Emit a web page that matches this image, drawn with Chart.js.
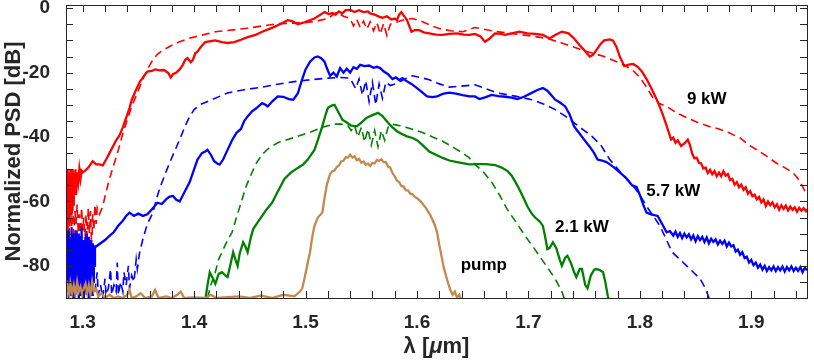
<!DOCTYPE html>
<html>
<head>
<meta charset="utf-8">
<script src="https://cdn.jsdelivr.net/npm/chart.js@4.4.1/dist/chart.umd.min.js"></script>
<style>
  html, body { margin: 0; padding: 0; background: #fff; }
  canvas { display: block; }
</style>
</head>
<body>
<canvas id="psd" width="814" height="364"></canvas>
<script>
// tick labels
const xTicks = [1.3, 1.4, 1.5, 1.6, 1.7, 1.8, 1.9];
const yTicks = [-80, -60, -40, -20, 0];

// series: [wavelength um, PSD dB]
// 9 kW measured
const red9kW = [
  [1.285,-53],[1.2855,-62],[1.286,-50],[1.2865,-70],[1.287,-52],[1.2875,-66],[1.288,-51],[1.2885,-60],
  [1.289,-50],[1.2895,-64],[1.290,-52],[1.2905,-57],[1.291,-50],[1.2915,-61],[1.292,-51],[1.293,-56],
  [1.2935,-50],[1.294,-58],[1.295,-51],[1.296,-54],[1.297,-50],[1.298,-53],[1.299,-50.5],[1.300,-51],
  [1.302,-50.5],[1.305,-49.5],[1.309,-47.5],[1.312,-48.5],[1.315,-48.5],[1.318,-48.8],[1.321,-47],
  [1.324,-45],[1.327,-43],[1.330,-41],[1.333,-39.5],[1.336,-37],[1.339,-34],[1.342,-31],[1.344,-28.5],
  [1.347,-26],[1.351,-23],[1.355,-21],[1.358,-19.7],[1.362,-19.5],[1.365,-19],[1.369,-19.3],[1.373,-19.2],
  [1.377,-20.2],[1.379,-21.5],[1.381,-20.5],[1.384,-20],[1.387,-19],[1.390,-17.5],[1.392,-16],[1.394,-15.5],
  [1.397,-16.8],[1.399,-16],[1.401,-14],[1.403,-13.5],[1.406,-12],[1.410,-10.5],[1.415,-10.2],[1.419,-10],
  [1.425,-10.5],[1.430,-10.8],[1.436,-10.5],[1.442,-9.8],[1.448,-9],[1.455,-8.3],[1.461,-7.3],[1.467,-6.5],
  [1.472,-5.8],[1.478,-4.8],[1.484,-3.7],[1.488,-4],[1.493,-5],[1.498,-4.5],[1.503,-3.8],[1.508,-3.2],
  [1.512,-2.3],[1.517,-1.2],[1.521,-1.8],[1.524,-1.5],[1.527,-2],[1.530,-1],[1.533,-1.6],[1.536,-0.6],
  [1.540,-0.5],[1.544,-1.2],[1.548,-0.6],[1.552,-1.2],[1.556,-1.0],[1.558,-1.6],[1.562,-2.0],[1.566,-2.6],
  [1.569,-3],[1.573,-2.5],[1.577,-3.5],[1.580,-3.2],[1.582,-3.7],[1.584,-2],[1.586,-1.2],[1.588,-2.2],
  [1.591,-3.7],[1.593,-5.5],[1.595,-7.3],[1.598,-6.8],[1.602,-6.8],[1.606,-7.5],[1.611,-7.8],[1.617,-8.2],
  [1.623,-8.3],[1.629,-8],[1.636,-7.8],[1.642,-8.2],[1.647,-8.3],[1.652,-8],[1.657,-8.8],[1.661,-10.4],
  [1.665,-9.5],[1.670,-7.8],[1.675,-8],[1.679,-8.3],[1.685,-7.8],[1.692,-7.3],[1.699,-7.8],[1.706,-8],
  [1.713,-8.3],[1.719,-9.4],[1.724,-8.3],[1.730,-7.3],[1.736,-7.8],[1.741,-9.4],[1.746,-11.5],[1.750,-13],
  [1.755,-15],[1.758,-14.5],[1.761,-13],[1.765,-11],[1.768,-10],[1.773,-9.7],[1.776,-10.1],[1.779,-12],
  [1.782,-15],[1.786,-18],[1.790,-17.5],[1.794,-17.3],[1.798,-18.2],[1.802,-19.7],[1.806,-22],[1.811,-25.3],
  [1.816,-29],[1.820,-32.5],[1.824,-36.5],[1.828,-40.8],[1.830,-40.2],[1.832,-41.8],[1.834,-41],[1.837,-42.8],
  [1.840,-42],[1.843,-40.8],[1.845,-42.5],[1.847,-45.2],[1.849,-46.6],[1.851,-46.4],[1.853,-48],[1.855,-48.2],
  [1.857,-49.8],[1.859,-49.5],[1.861,-51.2],[1.863,-50.2],[1.865,-51.6],[1.867,-50.6],[1.869,-52.2],[1.871,-51],
  [1.873,-52.2],[1.875,-50.6],[1.877,-52],[1.879,-51.5],[1.881,-53.4],[1.883,-53],[1.885,-54.8],[1.887,-54],
  [1.889,-55.6],[1.891,-54.8],[1.893,-56.4],[1.895,-55.6],[1.897,-57.6],[1.899,-56.8],[1.901,-58.4],[1.903,-57.9],
  [1.905,-59.4],[1.907,-58.6],[1.909,-60.3],[1.911,-59.4],[1.913,-61.4],[1.915,-60],[1.917,-61.2],[1.919,-60.3],
  [1.921,-61.8],[1.923,-60.9],[1.925,-62.6],[1.927,-61.2],[1.929,-62.3],[1.931,-61.3],[1.933,-62.8],[1.935,-61.6],
  [1.937,-62.6],[1.939,-61.8],[1.941,-63.2],[1.943,-62],[1.945,-62.9],[1.947,-62.1],[1.949,-63],[1.950,-62.4]
];
// 9 kW simulated
const red9kWSim = [
  [1.285,-56],[1.286,-66],[1.287,-60],[1.288,-70],[1.289,-62],[1.290,-68],[1.291,-60],[1.292,-72],
  [1.293,-63],[1.294,-67],[1.295,-61],[1.296,-70],[1.297,-64],[1.298,-72],[1.299,-62],[1.300,-69],
  [1.301,-65],[1.302,-73],[1.303,-64],[1.304,-71],[1.305,-62],[1.306,-70],[1.307,-63],[1.308,-74],
  [1.309,-64],[1.310,-69],[1.311,-61],[1.312,-67],[1.313,-62],[1.315,-64],[1.318,-61.5],[1.321,-57],
  [1.324,-53],[1.328,-48.5],[1.332,-44],[1.336,-39],[1.340,-34.6],[1.344,-30.5],[1.349,-26.3],[1.354,-22],
  [1.358,-19],[1.363,-16],[1.367,-14.3],[1.372,-13],[1.380,-11.5],[1.387,-10.4],[1.395,-9.4],[1.403,-8.7],
  [1.419,-7.3],[1.446,-6.3],[1.475,-4.8],[1.499,-4.5],[1.510,-4],[1.520,-3.2],[1.528,-1.2],[1.534,-2.5],
  [1.540,-3.2],[1.543,-5.5],[1.546,-3.5],[1.549,-6],[1.552,-4],[1.555,-6.5],[1.558,-4.2],[1.561,-7],
  [1.564,-4.5],[1.567,-8],[1.570,-4.8],[1.573,-8.5],[1.576,-5],[1.580,-4.5],[1.582,-4.3],[1.589,-3.5],
  [1.596,-3.2],[1.605,-4.2],[1.612,-5.3],[1.620,-6.3],[1.630,-7],[1.641,-7.3],[1.652,-6],[1.670,-7.2],
  [1.688,-8],[1.700,-8.5],[1.717,-9.4],[1.730,-10.8],[1.740,-12],[1.748,-13],[1.758,-14],[1.768,-15],
  [1.782,-17],[1.793,-19],[1.800,-21.5],[1.806,-24.5],[1.811,-27.4],[1.817,-29.5],[1.824,-30.5],[1.833,-32.5],
  [1.842,-34],[1.852,-35.5],[1.862,-36.7],[1.871,-37.5],[1.880,-38.7],[1.890,-40.3],[1.898,-42.5],[1.907,-44.4],
  [1.914,-46],[1.922,-48],[1.930,-49.5],[1.937,-51],[1.941,-52.5],[1.944,-54],[1.947,-56],[1.950,-58]
];
// 5.7 kW measured
const blue57kW = [
  [1.285,-70],[1.2855,-88],[1.286,-73],[1.2865,-86],[1.287,-69],[1.2875,-90],[1.288,-75],[1.2885,-84],
  [1.289,-71],[1.2895,-89],[1.290,-68],[1.2905,-87],[1.291,-74],[1.2915,-90],[1.292,-70],[1.2925,-85],
  [1.293,-72],[1.2935,-89],[1.294,-69],[1.2945,-88],[1.295,-76],[1.2955,-86],[1.296,-70],[1.2965,-90],
  [1.297,-73],[1.2975,-84],[1.298,-71],[1.2985,-89],[1.299,-68],[1.2995,-87],[1.300,-74],[1.3005,-90],
  [1.301,-72],[1.3015,-85],[1.302,-75],[1.3025,-88],[1.303,-70],[1.3035,-89],[1.304,-73],[1.3045,-86],
  [1.305,-71],[1.3055,-90],[1.306,-76],[1.3065,-84],[1.307,-72],[1.3075,-88],[1.308,-74],[1.3085,-89],
  [1.309,-73],[1.3095,-85],[1.310,-75],[1.3105,-80],[1.311,-74],
  [1.312,-74],[1.316,-73],[1.320,-72],[1.324,-70.7],[1.328,-69.5],[1.332,-67.5],[1.336,-66],[1.339,-64.5],
  [1.342,-63.5],[1.346,-64.5],[1.350,-63.8],[1.354,-64.5],[1.358,-64],[1.362,-62.5],[1.367,-60.4],[1.371,-60.8],
  [1.375,-59.3],[1.378,-58.5],[1.381,-58.3],[1.384,-59.5],[1.387,-60],[1.390,-58],[1.393,-56],[1.396,-54],
  [1.398,-52],[1.400,-50],[1.403,-47],[1.405,-46],[1.407,-45],[1.410,-44.5],[1.412,-44],[1.415,-45.5],
  [1.418,-47.5],[1.421,-48.3],[1.423,-48.5],[1.426,-47],[1.430,-44],[1.434,-41],[1.438,-38.7],[1.442,-37.5],
  [1.445,-35],[1.448,-33.6],[1.452,-32],[1.456,-31],[1.461,-29.5],[1.464,-30],[1.466,-30.5],[1.470,-29],
  [1.475,-27.4],[1.480,-27.5],[1.485,-28.2],[1.489,-28.4],[1.493,-26.5],[1.497,-22],[1.500,-19],[1.504,-16.6],
  [1.508,-15.3],[1.511,-15],[1.514,-15.5],[1.517,-16.6],[1.519,-18.5],[1.522,-21],[1.525,-20],[1.528,-21.2],
  [1.531,-18.6],[1.534,-20],[1.537,-18.8],[1.540,-20],[1.543,-18.3],[1.546,-18.8],[1.549,-17.6],[1.553,-18],
  [1.557,-17.8],[1.561,-18.5],[1.564,-18.2],[1.567,-18.6],[1.570,-19.6],[1.574,-20.5],[1.578,-22],[1.581,-21.5],
  [1.584,-22.3],[1.587,-21.7],[1.590,-22.5],[1.595,-23.5],[1.600,-24.8],[1.605,-26.2],[1.609,-27.4],[1.614,-27.6],
  [1.618,-27.4],[1.623,-26.6],[1.629,-26.2],[1.635,-26.5],[1.641,-27],[1.647,-27.4],[1.652,-27.4],[1.656,-28.2],
  [1.661,-27.7],[1.667,-26.9],[1.673,-27.3],[1.679,-27.5],[1.685,-27.8],[1.690,-28.2],[1.696,-27.5],[1.703,-26.3],
  [1.708,-25.4],[1.713,-24.8],[1.717,-25.6],[1.721,-27.2],[1.724,-28.4],[1.728,-29.2],[1.733,-30.5],[1.737,-33],
  [1.741,-36.7],[1.745,-38.5],[1.750,-40.8],[1.755,-43],[1.759,-45],[1.762,-47],[1.766,-47.3],[1.770,-47.8],
  [1.773,-48.5],[1.777,-49.5],[1.782,-51],[1.787,-52.5],[1.793,-55],[1.797,-55.5],[1.800,-58],[1.803,-61],
  [1.806,-63.5],[1.810,-64],[1.816,-64.5],[1.820,-67],[1.824,-69.6],[1.827,-69.2],[1.830,-70.6],[1.832,-69.4],
  [1.834,-71],[1.836,-69.8],[1.838,-71.4],[1.840,-70],[1.842,-71.2],[1.844,-70.2],[1.846,-71.8],[1.848,-70.6],
  [1.850,-72.4],[1.852,-70.8],[1.854,-72],[1.856,-71],[1.858,-72.6],[1.860,-71.2],[1.862,-73],[1.864,-71.6],
  [1.866,-72.6],[1.868,-71.8],[1.870,-73.4],[1.872,-72.2],[1.874,-73.2],[1.876,-72.2],[1.878,-74],[1.880,-72.8],
  [1.882,-74],[1.884,-73.6],[1.886,-75.6],[1.888,-75],[1.890,-76.6],[1.892,-75.8],[1.894,-77.6],[1.896,-77.2],
  [1.898,-79],[1.900,-78.2],[1.902,-79.8],[1.904,-79],[1.906,-80.6],[1.908,-79.6],[1.910,-81.2],[1.912,-80],
  [1.914,-81.6],[1.916,-80.4],[1.918,-81.4],[1.920,-80.2],[1.922,-81.6],[1.924,-80.4],[1.926,-81.4],[1.928,-80.2],
  [1.930,-81.8],[1.932,-80.4],[1.934,-81.4],[1.936,-80.2],[1.938,-81.6],[1.940,-80.6],[1.942,-81.6],[1.944,-80.4],
  [1.946,-82],[1.948,-80.6],[1.950,-81.4]
];
// 5.7 kW simulated
const blue57kWSim = [
  [1.311,-88],[1.313,-82],[1.314,-89],[1.316,-86],[1.318,-90],[1.320,-84],[1.321,-89],[1.323,-87],
  [1.325,-81],[1.326,-89],[1.328,-86],[1.330,-88],[1.331,-79],[1.332,-89],[1.334,-85],[1.336,-88],
  [1.337,-82],[1.339,-86],[1.341,-80],[1.342,-87],[1.344,-83],[1.346,-85],[1.348,-78],[1.349,-81],
  [1.351,-76],[1.354,-71.7],[1.358,-67],[1.363,-63.5],[1.366,-59.5],[1.369,-56],[1.374,-51.5],[1.378,-48],
  [1.383,-44],[1.387,-40.8],[1.392,-36.5],[1.396,-33.6],[1.400,-31.5],[1.405,-30],[1.416,-28.4],[1.430,-26.3],
  [1.445,-25.3],[1.461,-24.5],[1.475,-23.6],[1.490,-22.8],[1.505,-22.2],[1.520,-21.7],[1.531,-21.5],[1.540,-21.7],
  [1.542,-23],[1.545,-25],[1.548,-22],[1.551,-27],[1.554,-22.5],[1.557,-29],[1.560,-23],[1.563,-30],
  [1.566,-23.5],[1.569,-28],[1.572,-23],[1.576,-24],[1.582,-23.3],[1.589,-22],[1.596,-21],[1.603,-21.5],
  [1.611,-22.2],[1.620,-23.5],[1.629,-24.5],[1.640,-24.2],[1.652,-23.8],[1.662,-25],[1.672,-26.3],[1.688,-27.3],
  [1.703,-28.4],[1.714,-29.8],[1.724,-31.5],[1.733,-33.5],[1.741,-35.6],[1.749,-37.7],[1.757,-39.8],[1.765,-42.5],
  [1.773,-47],[1.783,-51],[1.793,-54.7],[1.800,-58],[1.806,-61.5],[1.812,-64.5],[1.818,-67.6],[1.824,-72],
  [1.829,-75.8],[1.836,-78],[1.842,-80],[1.848,-82],[1.854,-84],[1.858,-86.5],[1.861,-89],[1.863,-91]
];
// 2.1 kW measured
const green21kW = [
  [1.410,-90.5],[1.412,-86],[1.414,-82],[1.417,-84],[1.419,-85.6],[1.422,-82.5],[1.425,-82],[1.428,-83],
  [1.430,-83.5],[1.433,-79],[1.435,-75.8],[1.437,-78],[1.439,-80],[1.441,-76],[1.444,-72.7],[1.446,-74],
  [1.448,-75.8],[1.451,-71],[1.453,-68.6],[1.457,-66.5],[1.461,-64.5],[1.465,-62.5],[1.470,-60.4],[1.475,-57],
  [1.481,-53],[1.487,-51],[1.493,-49.6],[1.498,-48.5],[1.502,-47],[1.505,-45.5],[1.508,-44],[1.511,-41],
  [1.515,-36.7],[1.518,-33],[1.520,-31],[1.522,-30.5],[1.524,-30.2],[1.526,-30],[1.529,-32],[1.533,-34.6],
  [1.537,-35.5],[1.541,-36.5],[1.546,-36.7],[1.550,-35.5],[1.555,-34],[1.560,-33.2],[1.565,-32.5],[1.569,-33.5],
  [1.574,-35.6],[1.578,-37],[1.582,-38.2],[1.586,-39],[1.591,-39.8],[1.596,-40.3],[1.600,-41],[1.605,-42.5],
  [1.611,-44.5],[1.617,-45.5],[1.623,-46.5],[1.629,-47.3],[1.636,-47.8],[1.642,-48.2],[1.647,-48.5],[1.655,-48.4],
  [1.662,-48.4],[1.670,-48.7],[1.676,-49.5],[1.681,-50.5],[1.685,-52],[1.690,-55],[1.695,-58.5],[1.699,-61.5],
  [1.703,-63.8],[1.706,-65],[1.710,-66.2],[1.713,-67.6],[1.715,-71],[1.717,-74.8],[1.719,-74.5],[1.722,-72.7],
  [1.725,-74.5],[1.728,-78],[1.730,-80],[1.733,-77.5],[1.735,-76.9],[1.738,-79],[1.741,-82],[1.743,-83.5],
  [1.746,-81],[1.748,-81],[1.751,-86],[1.753,-87],[1.756,-83],[1.759,-81.2],[1.761,-81],[1.764,-81.3],
  [1.767,-82],[1.769,-85],[1.771,-89],[1.773,-92]
];
// 2.1 kW simulated
const green21kWSim = [
  [1.412,-90],[1.415,-86],[1.419,-82],[1.422,-78],[1.426,-75],[1.430,-72],[1.434,-69.6],[1.438,-65],
  [1.443,-59.4],[1.447,-55],[1.452,-51],[1.456,-48],[1.461,-45.4],[1.467,-43.5],[1.475,-41.8],[1.484,-40.8],
  [1.493,-39.8],[1.504,-38.5],[1.515,-37],[1.525,-36],[1.532,-36],[1.538,-36.5],[1.541,-38],[1.544,-36.5],
  [1.547,-40],[1.550,-37],[1.553,-41.5],[1.556,-37.5],[1.559,-42.5],[1.562,-38],[1.565,-43],[1.568,-38],
  [1.571,-41],[1.574,-37],[1.577,-36],[1.582,-36.3],[1.590,-37],[1.598,-37.8],[1.605,-38.6],[1.614,-40],
  [1.623,-41.3],[1.633,-43.3],[1.641,-45],[1.647,-46.5],[1.652,-48.5],[1.660,-51],[1.667,-54],[1.674,-58],
  [1.681,-62.5],[1.689,-66.5],[1.697,-70.7],[1.705,-74.5],[1.712,-78],[1.718,-81],[1.724,-84],[1.730,-88],
  [1.733,-91]
];
// pump
const pump = [
  [1.285,-88],[1.2865,-86],[1.288,-89],[1.289,-85.5],[1.2905,-88.5],[1.292,-86],[1.2935,-89],[1.295,-85],
  [1.2965,-88],[1.298,-86.5],[1.2995,-89],[1.301,-87],[1.3025,-85.5],[1.304,-88.5],[1.3055,-86],[1.307,-89],
  [1.3085,-85],[1.310,-88],[1.312,-87],[1.314,-89.5],[1.317,-88.5],[1.320,-90],[1.324,-89],[1.328,-90],
  [1.332,-89.5],[1.336,-90],[1.340,-89],[1.342,-87.5],[1.344,-90],[1.348,-89.5],[1.352,-88.5],[1.356,-90],
  [1.362,-89.5],[1.365,-87.5],[1.368,-90],[1.375,-89.5],[1.380,-90],[1.385,-89],[1.388,-88],[1.391,-90],
  [1.400,-89.8],[1.410,-90],[1.415,-89],[1.420,-90],[1.440,-89.5],[1.450,-90],[1.460,-89.3],[1.470,-90],
  [1.480,-89],[1.490,-89.5],[1.495,-88],[1.497,-87],[1.499,-84],[1.502,-79],[1.504,-75.8],[1.506,-71],
  [1.508,-67.6],[1.511,-65],[1.515,-63.5],[1.517,-59],[1.519,-55],[1.522,-51.5],[1.524,-50.6],[1.526,-50.4],
  [1.528,-49.3],[1.530,-48.8],[1.532,-47.6],[1.534,-47.4],[1.536,-46.3],[1.538,-46.4],[1.540,-45.5],[1.542,-46.4],
  [1.544,-46],[1.546,-47.2],[1.548,-46.8],[1.550,-48],[1.552,-47.6],[1.554,-48.6],[1.556,-48.3],[1.558,-49],
  [1.560,-48],[1.562,-48.2],[1.564,-47.2],[1.566,-47.4],[1.568,-46.9],[1.570,-47.8],[1.572,-47.8],[1.574,-49.2],
  [1.576,-49.5],[1.578,-51.2],[1.580,-52.2],[1.582,-53.6],[1.584,-54],[1.586,-55.2],[1.588,-55.4],[1.590,-56.6],
  [1.592,-56.6],[1.594,-57.6],[1.596,-57.8],[1.598,-58.6],[1.600,-59],[1.602,-59.6],[1.604,-60.3],[1.606,-61.2],
  [1.608,-62],[1.610,-63.2],[1.612,-64.3],[1.614,-65.8],[1.616,-67.4],[1.618,-69.6],[1.620,-73.5],[1.622,-77],
  [1.624,-80.5],[1.626,-83],[1.628,-85.5],[1.630,-87.5],[1.632,-89],[1.634,-88],[1.636,-90],[1.638,-89],
  [1.640,-91]
];

const seriesNames = ['pump', '2.1 kW', '2.1 kW sim', '5.7 kW', '5.7 kW sim', '9 kW', '9 kW sim'];
const seriesData = [pump, green21kW, green21kWSim, blue57kW, blue57kWSim, red9kW, red9kWSim];
const seriesColor = ['#C4884C', '#008000', '#008000', '#0000FF', '#0000FF', '#FF0000', '#FF0000'];
const seriesDashed = [false, false, true, false, true, false, true];

// text labels next to the curves
const notes = [
  { text: '9 kW', x: 1.860, y: -28.4 },
  { text: '5.7 kW', x: 1.830, y: -56.9 },
  { text: '2.1 kW', x: 1.748, y: -68 },
  { text: 'pump', x: 1.660, y: -79.7 }
];

const ink = '#262626';
const font = 'Liberation Sans, Arial, Helvetica, sans-serif';

// Matlab-like box with inward ticks on all sides, curve labels, x title with italic mu
const boxPlugin = {
  id: 'box',
  afterDraw(chart) {
    const { ctx, chartArea: a, scales } = chart;
    ctx.save();
    ctx.strokeStyle = ink;
    ctx.lineWidth = 1;
    ctx.beginPath();
    for (let v = 1.30; v < 1.951; v += 0.02) {
      const px = Math.round(scales.x.getPixelForValue(v)) + 0.5;
      ctx.moveTo(px, a.bottom); ctx.lineTo(px, a.bottom - 7);
      ctx.moveTo(px, a.top); ctx.lineTo(px, a.top + 7);
    }
    for (let v = -90; v <= 0; v += 5) {
      const py = Math.round(scales.y.getPixelForValue(v)) + 0.5;
      ctx.moveTo(a.left, py); ctx.lineTo(a.left + 7, py);
      ctx.moveTo(a.right, py); ctx.lineTo(a.right - 7, py);
    }
    ctx.stroke();
    ctx.strokeRect(Math.round(a.left) + 0.5, Math.round(a.top) + 0.5,
      Math.round(a.right - a.left), Math.round(a.bottom - a.top));

    ctx.fillStyle = '#000';
    ctx.font = 'bold 17px ' + font;
    ctx.textAlign = 'center';
    ctx.textBaseline = 'middle';
    notes.forEach(n => {
      ctx.fillText(n.text, scales.x.getPixelForValue(n.x), scales.y.getPixelForValue(n.y));
    });

    // x axis title: "λ [μm]" with an italic mu
    const parts = [['λ [', 'bold '], ['μ', 'italic bold '], ['m]', 'bold ']];
    ctx.fillStyle = ink;
    ctx.textAlign = 'left';
    let total = 0;
    parts.forEach(p => { ctx.font = p[1] + '22px ' + font; total += ctx.measureText(p[0]).width; });
    let x0 = (a.left + a.right) / 2 - total / 2;
    parts.forEach(p => {
      ctx.font = p[1] + '22px ' + font;
      ctx.fillText(p[0], x0, 347);
      x0 += ctx.measureText(p[0]).width;
    });
    ctx.restore();
  }
};

const datasets = seriesData.map((pts, i) => ({
  label: seriesNames[i],
  data: pts.map(p => ({ x: p[0], y: p[1] })),
  borderColor: seriesColor[i],
  borderWidth: seriesDashed[i] ? 1.6 : 2.3,
  borderDash: seriesDashed[i] ? [8, 5] : [],
  pointRadius: 0,
  tension: 0,
  fill: false
}));

new Chart(document.getElementById('psd'), {
  type: 'line',
  data: { datasets },
  options: {
    responsive: false,
    animation: false,
    devicePixelRatio: 1,
    layout: { padding: { top: 5, right: 7, left: 0, bottom: 0 } },
    plugins: { legend: { display: false }, tooltip: { enabled: false } },
    scales: {
      x: {
        type: 'linear',
        min: 1.285,
        max: 1.95,
        grid: { display: false },
        border: { display: false },
        afterBuildTicks: s => { s.ticks = xTicks.map(v => ({ value: v })); },
        afterFit: s => { s.height = 66; s.paddingLeft = 0; s.paddingRight = 0; },
        ticks: {
          color: ink, padding: 5, autoSkip: false, maxRotation: 0,
          font: { family: font, size: 19, weight: 'bold' },
          callback: v => v.toFixed(1)
        },
        title: { display: false }
      },
      y: {
        min: -90,
        max: 1,
        grid: { display: false },
        border: { display: false },
        afterBuildTicks: s => { s.ticks = yTicks.map(v => ({ value: v })); },
        afterFit: s => { s.width = 66; s.paddingTop = 0; s.paddingBottom = 0; },
        ticks: {
          color: ink, padding: 8, autoSkip: false,
          font: { family: font, size: 19, weight: 'bold' },
          callback: v => String(v)
        },
        title: {
          display: true, text: 'Normalized PSD [dB]', color: ink,
          font: { family: font, size: 22, weight: 'bold' },
          padding: { top: 1, bottom: 0 }
        }
      }
    }
  },
  plugins: [boxPlugin]
});
</script>
</body>
</html>
